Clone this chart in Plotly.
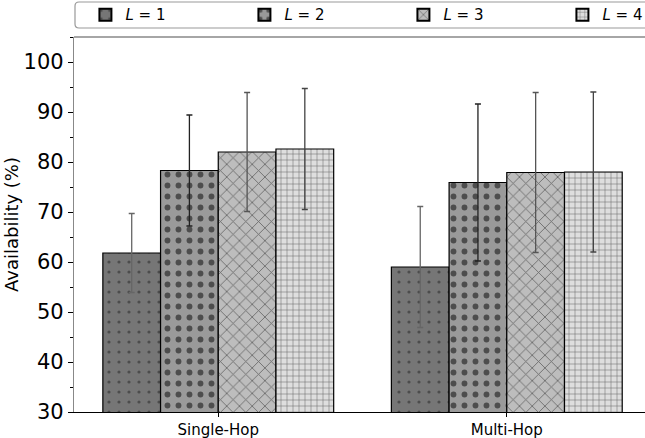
import plotly.graph_objects as go

categories = ["Single-Hop", "Multi-Hop"]
series_names = ["<i>L</i> = 1", "<i>L</i> = 2", "<i>L</i> = 3", "<i>L</i> = 4"]
avail_L1 = [61.8, 59.0]
avail_L2 = [78.3, 75.9]
avail_L3 = [82.0, 77.9]
avail_L4 = [82.6, 78.0]
err_L1 = [7.9, 12.1]
err_L2 = [11.1, 15.7]
err_L3 = [11.9, 16.0]
err_L4 = [12.1, 16.0]
y_ticks = [30, 40, 50, 60, 70, 80, 90, 100]

values = [avail_L1, avail_L2, avail_L3, avail_L4]
errors = [err_L1, err_L2, err_L3, err_L4]
colors = ["#767676", "#9a9a9a", "#bdbdbd", "#dedede"]
patterns = [
    dict(shape=".", size=10, solidity=0.08, fgcolor="#222", fillmode="overlay"),
    dict(shape=".", size=11, solidity=0.22, fgcolor="#000", fillmode="overlay"),
    dict(shape="x", size=9, solidity=0.18, fgcolor="#111", fillmode="overlay"),
    dict(shape="+", size=6, solidity=0.18, fgcolor="#000", fillmode="overlay"),
]
err_colors = ["#666", "#222", "#555", "#444"]

fig = go.Figure()
for i in range(4):
    fig.add_trace(go.Bar(
        x=categories, y=values[i], name=series_names[i],
        marker=dict(color=colors[i], line=dict(color="#000", width=1.2), pattern=patterns[i]),
        error_y=dict(type="data", array=errors[i], visible=True, color=err_colors[i],
                     thickness=1.3, width=3),
        legendwidth=40 if i == 3 else 114,
    ))

fig.update_layout(
    width=645, height=438,
    margin=dict(l=74, r=0, t=37, b=26, autoexpand=False),
    paper_bgcolor="white", plot_bgcolor="white",
    barmode="group", bargap=0.2, bargroupgap=0,
    font=dict(family="DejaVu Sans", color="#000"),
    showlegend=True,
    legend=dict(orientation="h", x=0.02, xanchor="left", y=1.059, yanchor="middle",
                font=dict(size=15), bgcolor="rgba(0,0,0,0)", borderwidth=0,
                itemsizing="constant"),
    xaxis=dict(range=[-0.5, 1.479], showline=True, linecolor="#000", linewidth=1.3,
               ticks="outside", ticklen=4, tickcolor="#000", tickfont=dict(size=15),
               showgrid=False, zeroline=False, automargin=False),
    yaxis=dict(range=[30, 105], tickvals=y_ticks, showline=True, linecolor="#888",
               linewidth=1.3, ticks="outside", ticklen=5, tickcolor="#000",
               tickfont=dict(size=21), showgrid=False, zeroline=False, automargin=False,
               title=dict(text="Availability (%)", font=dict(size=18), standoff=0),
               minor=dict(tickvals=[35, 45, 55, 65, 75, 85, 95, 105], ticks="outside",
                          ticklen=3, tickcolor="#000")),
)

# top spine
fig.add_shape(type="line", xref="paper", yref="paper", x0=0, x1=1.01, y0=1, y1=1,
              line=dict(color="#888", width=1.3))
# legend frame (rounded, extends beyond the right edge)
x0 = 1 / 571
y0 = 1 + 9 / 375
y1 = 1 + 35 / 375
rx = 4 / 571
ry = 4 / 375
path = (f"M {1.05},{y1} L {x0 + rx},{y1} Q {x0},{y1} {x0},{y1 - ry} "
        f"L {x0},{y0 + ry} Q {x0},{y0} {x0 + rx},{y0} L {1.05},{y0}")
fig.add_shape(type="path", xref="paper", yref="paper", path=path,
              line=dict(color="#999", width=1.2))

fig.write_html(
    "out.html",
    config={"displayModeBar": False},
    post_script="document.body.style.margin='0';document.body.style.overflow='hidden';",
)
